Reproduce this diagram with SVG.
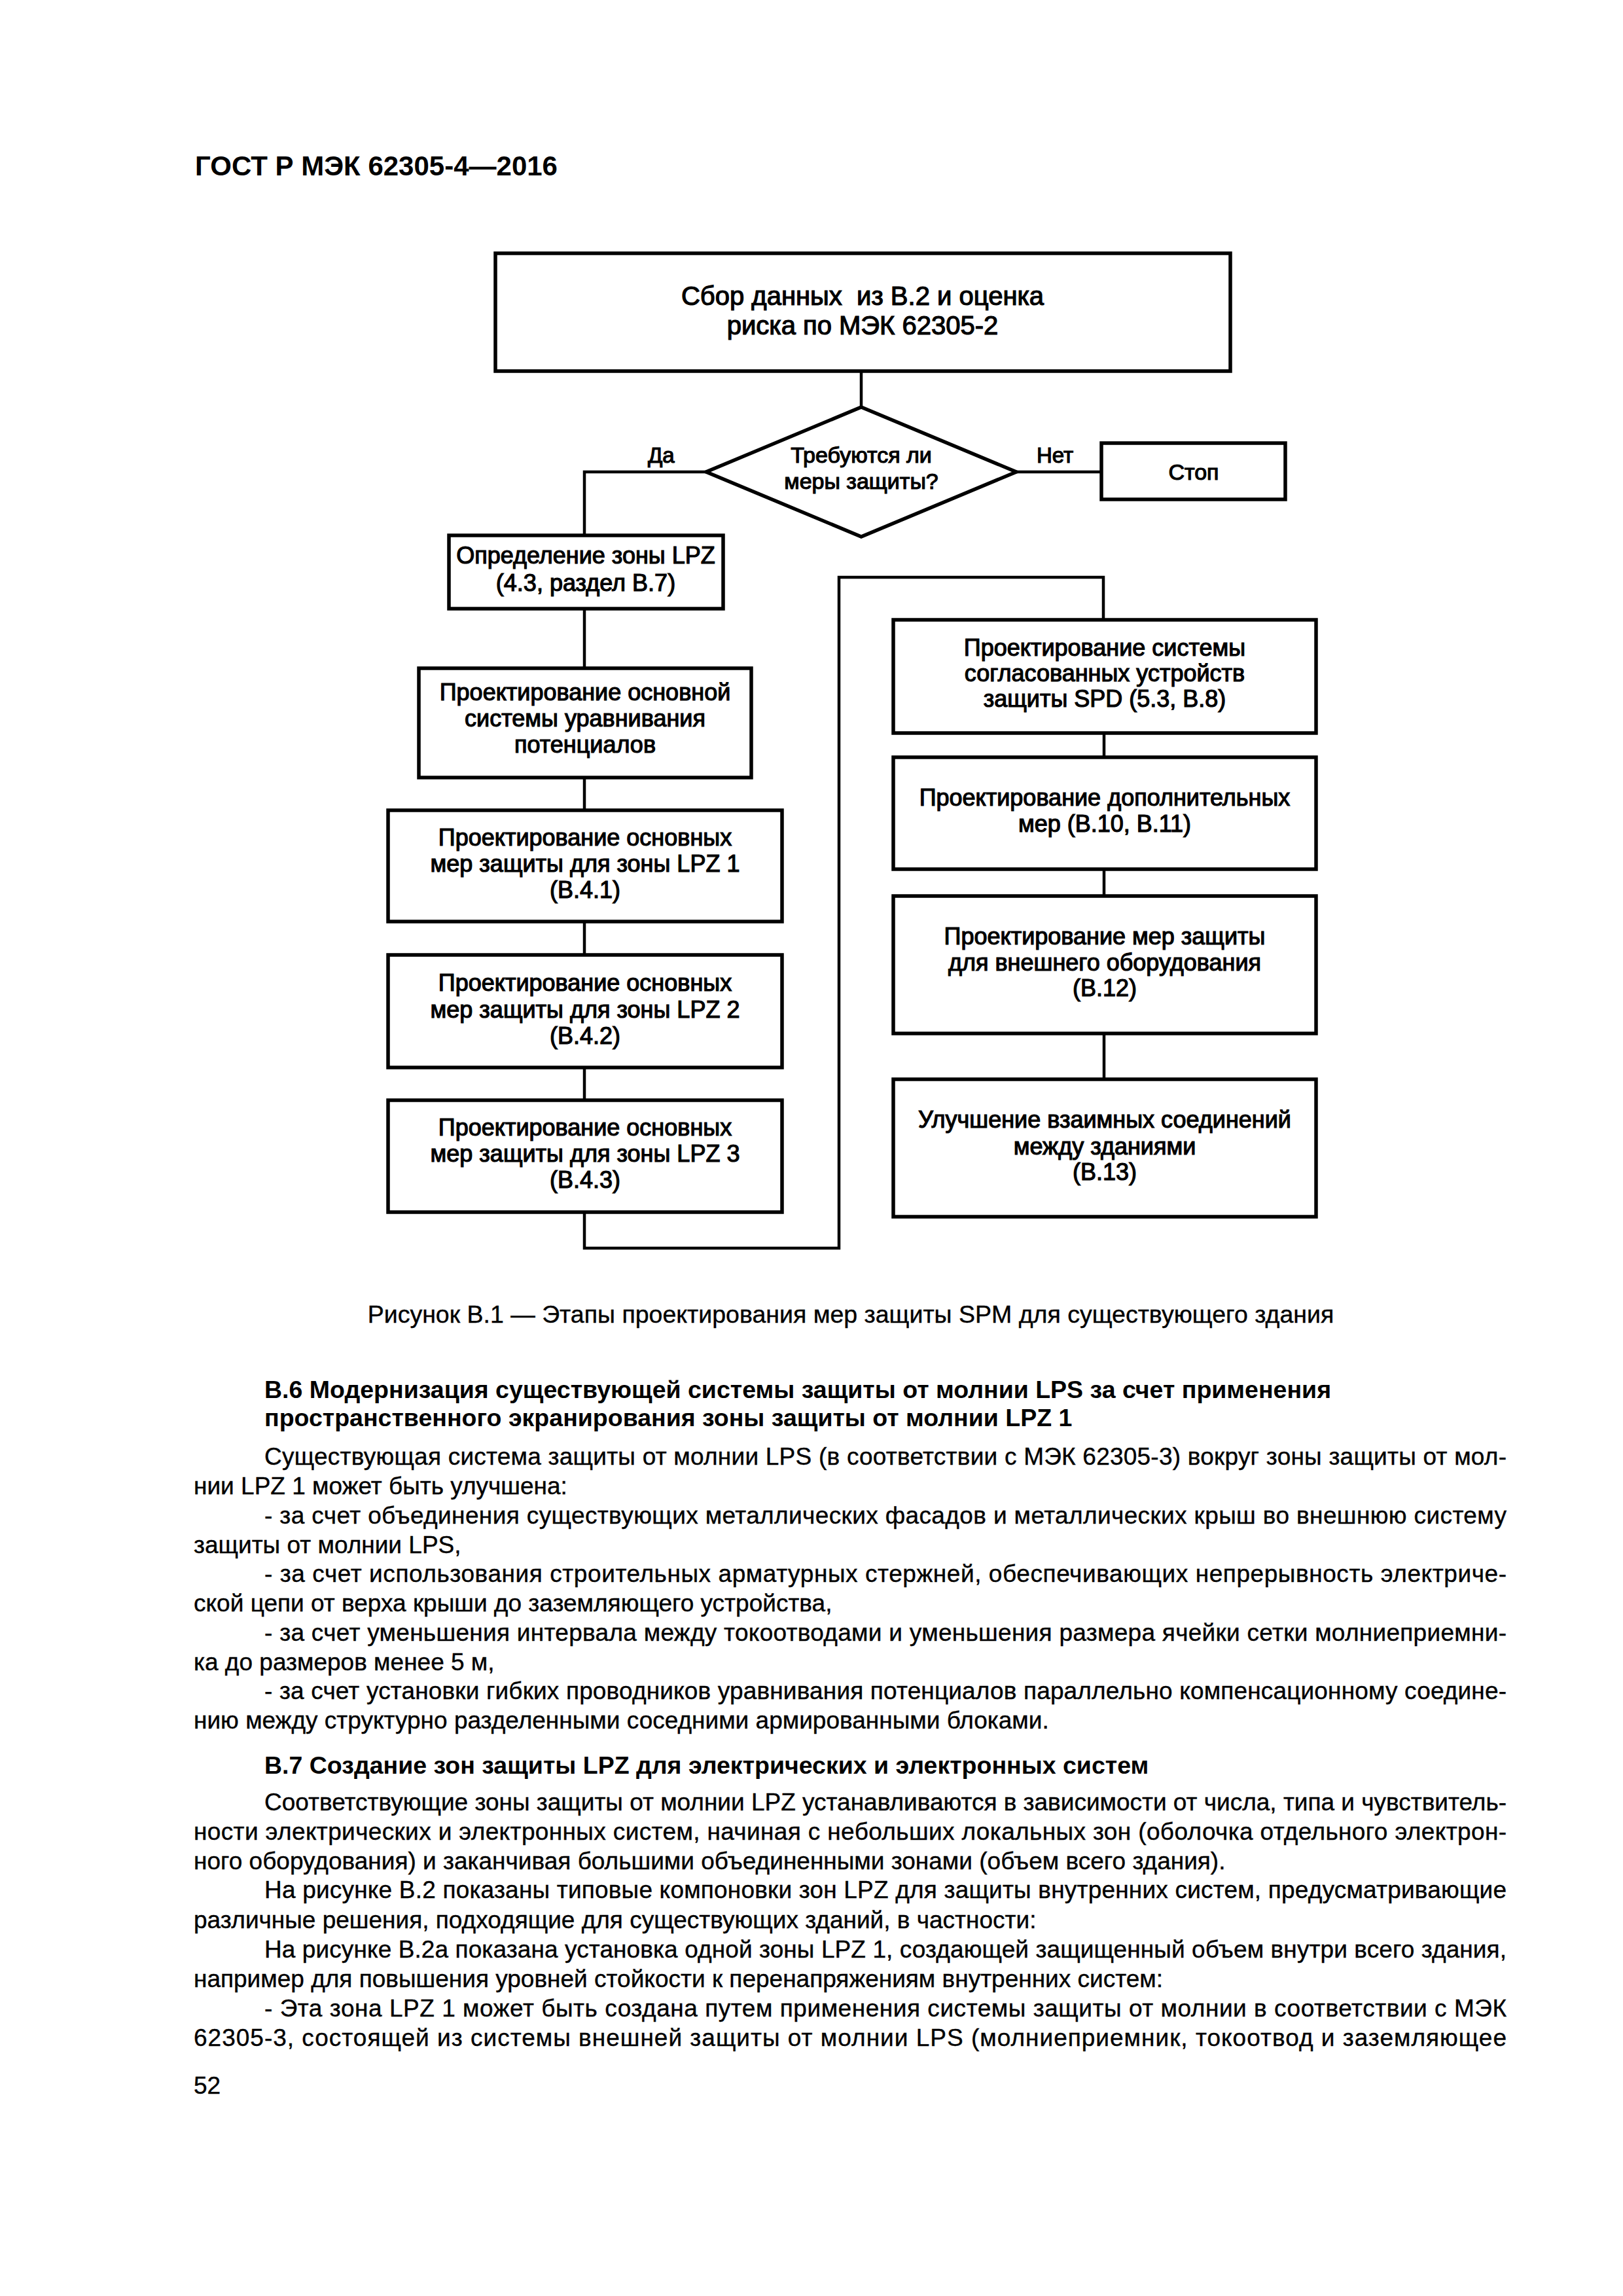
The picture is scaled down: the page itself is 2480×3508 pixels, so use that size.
<svg xmlns="http://www.w3.org/2000/svg" width="2480" height="3508" viewBox="0 0 2480 3508">
<style>
.box{fill:#fff;stroke:#000;stroke-width:5.5}
.conn{fill:none;stroke:#000;stroke-width:4.5}
.t{font-family:"Liberation Sans",Arial,sans-serif;font-size:36px;text-anchor:middle;fill:#000;stroke:#000;stroke-width:1.2}
.tl{font-family:"Liberation Sans",Arial,sans-serif;font-size:40px;text-anchor:middle;fill:#000;stroke:#000;stroke-width:1.2}
.td{font-family:"Liberation Sans",Arial,sans-serif;font-size:34px;text-anchor:middle;fill:#000;stroke:#000;stroke-width:1.2}
.lab{font-family:"Liberation Sans",Arial,sans-serif;font-size:33px;fill:#000;stroke:#000;stroke-width:1.2}
.b{font-family:"Liberation Sans",Arial,sans-serif;font-size:37px;fill:#000;stroke:#000;stroke-width:0.4}
.h{font-family:"Liberation Sans",Arial,sans-serif;font-size:37.5px;font-weight:bold;fill:#000}
.hd{font-family:"Liberation Sans",Arial,sans-serif;font-size:42px;font-weight:bold;fill:#000}
</style>
<rect x="0" y="0" width="2480" height="3508" fill="#fff"/>
<text class="hd" x="298" y="268">ГОСТ Р МЭК 62305-4—2016</text>

<g id="connectors">
<path class="conn" d="M1316,567 V622"/>
<path class="conn" d="M1079,721 H893 V818"/>
<path class="conn" d="M1553,721 H1683"/>
<path class="conn" d="M893,930 V1021"/>
<path class="conn" d="M893,1188 V1238"/>
<path class="conn" d="M893,1408 V1459"/>
<path class="conn" d="M893,1631 V1681"/>
<path class="conn" d="M893,1852 V1907 H1282 V882 H1686 V947"/>
<path class="conn" d="M1687,1120 V1157"/>
<path class="conn" d="M1687,1328 V1369"/>
<path class="conn" d="M1687,1579 V1649"/>
<text class="lab" x="990" y="707">Да</text>
<text class="lab" x="1584" y="707">Нет</text>
</g>

<g id="n-start">
<rect class="box" x="757" y="387" width="1123" height="180"/>
<text class="tl" x="1318" y="466" xml:space="preserve">Сбор данных  из В.2 и оценка</text>
<text class="tl" x="1318" y="511">риска по МЭК 62305-2</text>
</g>

<g id="n-decision">
<polygon class="box" points="1316,622 1553,721 1316,820 1079,721"/>
<text class="td" x="1316" y="707">Требуются ли</text>
<text class="td" x="1316" y="747">меры защиты?</text>
</g>

<g id="n-stop">
<rect class="box" x="1683" y="677" width="281" height="86"/>
<text class="td" x="1824" y="733">Стоп</text>
</g>

<g id="n-lpz">
<rect class="box" x="686" y="818" width="419" height="112"/>
<text class="t" x="895" y="861">Определение зоны LPZ</text>
<text class="t" x="895" y="903">(4.3, раздел В.7)</text>
</g>

<g id="n-bond">
<rect class="box" x="640" y="1021" width="508" height="167"/>
<text class="t" x="894" y="1070">Проектирование основной</text>
<text class="t" x="894" y="1110">системы уравнивания</text>
<text class="t" x="894" y="1150">потенциалов</text>
</g>

<g id="n-lpz1">
<rect class="box" x="593" y="1238" width="602" height="170"/>
<text class="t" x="894" y="1292">Проектирование основных</text>
<text class="t" x="894" y="1332">мер защиты для зоны LPZ 1</text>
<text class="t" x="894" y="1372">(В.4.1)</text>
</g>

<g id="n-lpz2">
<rect class="box" x="593" y="1459" width="602" height="172"/>
<text class="t" x="894" y="1514">Проектирование основных</text>
<text class="t" x="894" y="1555">мер защиты для зоны LPZ 2</text>
<text class="t" x="894" y="1595">(В.4.2)</text>
</g>

<g id="n-lpz3">
<rect class="box" x="593" y="1681" width="602" height="171"/>
<text class="t" x="894" y="1735">Проектирование основных</text>
<text class="t" x="894" y="1775">мер защиты для зоны LPZ 3</text>
<text class="t" x="894" y="1815">(В.4.3)</text>
</g>

<g id="n-spd">
<rect class="box" x="1365" y="947" width="646" height="173"/>
<text class="t" x="1688" y="1002">Проектирование системы</text>
<text class="t" x="1688" y="1041">согласованных устройств</text>
<text class="t" x="1688" y="1080">защиты SPD (5.3, В.8)</text>
</g>

<g id="n-add">
<rect class="box" x="1365" y="1157" width="646" height="171"/>
<text class="t" x="1688" y="1231">Проектирование дополнительных</text>
<text class="t" x="1688" y="1271">мер (В.10, В.11)</text>
</g>

<g id="n-ext">
<rect class="box" x="1365" y="1369" width="646" height="210"/>
<text class="t" x="1688" y="1443">Проектирование мер защиты</text>
<text class="t" x="1688" y="1483">для внешнего оборудования</text>
<text class="t" x="1688" y="1522">(В.12)</text>
</g>

<g id="n-inter">
<rect class="box" x="1365" y="1649" width="646" height="210"/>
<text class="t" x="1688" y="1723">Улучшение взаимных соединений</text>
<text class="t" x="1688" y="1764">между зданиями</text>
<text class="t" x="1688" y="1803">(В.13)</text>
</g>

<g id="page-text">
<text class="b" x="1300" y="2021" text-anchor="middle" style="font-size:37.5px">Рисунок В.1 — Этапы проектирования мер защиты SPM для существующего здания</text>
<text class="h" x="404" y="2136">В.6 Модернизация существующей системы защиты от молнии LPS за счет применения</text>
<text class="h" x="404" y="2179">пространственного экранирования зоны защиты от молнии LPZ 1</text>
<text class="b" x="404" y="2238" textLength="1898" lengthAdjust="spacing">Существующая система защиты от молнии LPS (в соответствии с МЭК 62305-3) вокруг зоны защиты от мол-</text>
<text class="b" x="296" y="2283">нии LPZ 1 может быть улучшена:</text>
<text class="b" x="404" y="2328" textLength="1898" lengthAdjust="spacing">- за счет объединения существующих металлических фасадов и металлических крыш во внешнюю систему</text>
<text class="b" x="296" y="2373">защиты от молнии LPS,</text>
<text class="b" x="404" y="2417" textLength="1898" lengthAdjust="spacing">- за счет использования строительных арматурных стержней, обеспечивающих непрерывность электриче-</text>
<text class="b" x="296" y="2462">ской цепи от верха крыши до заземляющего устройства,</text>
<text class="b" x="404" y="2507" textLength="1898" lengthAdjust="spacing">- за счет уменьшения интервала между токоотводами и уменьшения размера ячейки сетки молниеприемни-</text>
<text class="b" x="296" y="2552">ка до размеров менее 5 м,</text>
<text class="b" x="404" y="2596" textLength="1898" lengthAdjust="spacing">- за счет установки гибких проводников уравнивания потенциалов параллельно компенсационному соедине-</text>
<text class="b" x="296" y="2641">нию между структурно разделенными соседними армированными блоками.</text>
<text class="h" x="404" y="2710">В.7 Создание зон защиты LPZ для электрических и электронных систем</text>
<text class="b" x="404" y="2766" textLength="1898" lengthAdjust="spacing">Соответствующие зоны защиты от молнии LPZ устанавливаются в зависимости от числа, типа и чувствитель-</text>
<text class="b" x="296" y="2811" textLength="2006" lengthAdjust="spacing">ности электрических и электронных систем, начиная с небольших локальных зон (оболочка отдельного электрон-</text>
<text class="b" x="296" y="2856">ного оборудования) и заканчивая большими объединенными зонами (объем всего здания).</text>
<text class="b" x="404" y="2900" textLength="1898" lengthAdjust="spacing">На рисунке В.2 показаны типовые компоновки зон LPZ для защиты внутренних систем, предусматривающие</text>
<text class="b" x="296" y="2946">различные решения, подходящие для существующих зданий, в частности:</text>
<text class="b" x="404" y="2991" textLength="1898" lengthAdjust="spacing">На рисунке В.2а показана установка одной зоны LPZ 1, создающей защищенный объем внутри всего здания,</text>
<text class="b" x="296" y="3036">например для повышения уровней стойкости к перенапряжениям внутренних систем:</text>
<text class="b" x="404" y="3081" textLength="1898" lengthAdjust="spacing">- Эта зона LPZ 1 может быть создана путем применения системы защиты от молнии в соответствии с МЭК</text>
<text class="b" x="296" y="3126" textLength="2006" lengthAdjust="spacing">62305-3, состоящей из системы внешней защиты от молнии LPS (молниеприемник, токоотвод и заземляющее</text>
<text class="b" x="296" y="3199">52</text>
</g>
</svg>
